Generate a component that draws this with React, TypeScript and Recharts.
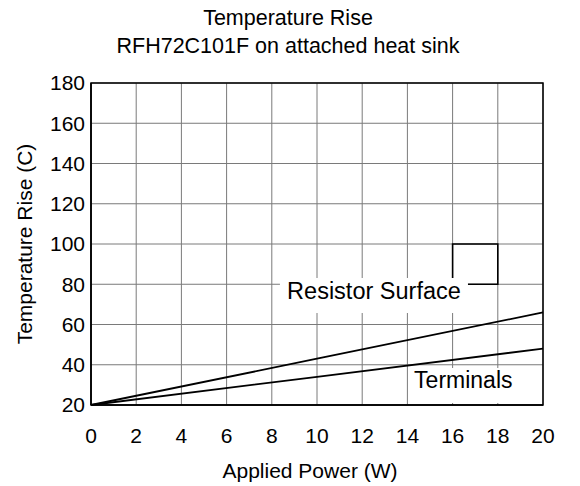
import React from 'react';
import {
  LineChart,
  Line,
  XAxis,
  YAxis,
  CartesianGrid,
  ReferenceArea,
  Label,
} from 'recharts';

const powerW = [0, 10, 20];
const resistorSurface = [20, 43, 66];
const terminals = [20, 34, 48];
const xTicks = [0, 2, 4, 6, 8, 10, 12, 14, 16, 18, 20];
const yTicks = [20, 40, 60, 80, 100, 120, 140, 160, 180];

const data = powerW.map((x, i) => ({
  x,
  surface: resistorSurface[i],
  terminals: terminals[i],
}));

const FONT = "'Liberation Sans', Arial, Helvetica, sans-serif";

export default function App() {
  return (
    <div
      style={{
        position: 'absolute',
        left: 0,
        top: 0,
        width: 580,
        height: 486,
        background: '#fff',
        fontFamily: FONT,
      }}
    >
      <div
        style={{
          position: 'absolute',
          left: 0,
          top: 4,
          width: 576,
          textAlign: 'center',
          fontSize: 21.5,
          lineHeight: '28px',
          color: '#000',
        }}
      >
        <div>Temperature Rise</div>
        <div>RFH72C101F on attached heat sink</div>
      </div>
      <LineChart
        width={580}
        height={486}
        data={data}
        margin={{ top: 83, right: 37, bottom: 0, left: 0 }}
        style={{ position: 'absolute', left: 0, top: 0, fontFamily: FONT }}
      >
        <CartesianGrid stroke="#7a7a7a" strokeWidth={1} />
        <XAxis
          dataKey="x"
          type="number"
          domain={[0, 20]}
          ticks={xTicks}
          interval={0}
          height={81}
          tickSize={0}
          tickMargin={23}
          axisLine={{ stroke: '#000', strokeWidth: 1.5 }}
          tickLine={false}
          tick={{ fill: '#000', fontSize: 21, fontFamily: FONT }}
        >
          <Label
            content={() => (
              <text
                x={310}
                y={478}
                textAnchor="middle"
                fontSize={21}
                fontFamily={FONT}
                fill="#000"
              >
                Applied Power (W)
              </text>
            )}
          />
        </XAxis>
        <YAxis
          type="number"
          domain={[20, 180]}
          ticks={yTicks}
          interval={0}
          width={91}
          tickSize={0}
          tickMargin={6}
          axisLine={{ stroke: '#000', strokeWidth: 1.5 }}
          tickLine={false}
          tick={{ fill: '#000', fontSize: 21, fontFamily: FONT }}
        >
          <Label
            content={() => (
              <text
                x={32}
                y={244}
                transform="rotate(-90 32 244)"
                textAnchor="middle"
                fontSize={21}
                fontFamily={FONT}
                fill="#000"
              >
                Temperature Rise (C)
              </text>
            )}
          />
        </YAxis>
        <ReferenceArea
          x1={0}
          x2={20}
          y1={20}
          y2={180}
          fill="none"
          stroke="#000"
          strokeWidth={1.5}
        />
        <ReferenceArea
          x1={16}
          x2={18}
          y1={80}
          y2={100}
          fill="none"
          fillOpacity={0}
          stroke="#000"
          strokeWidth={1.6}
        />
        <ReferenceArea
          x1={8.36}
          x2={16.68}
          y1={65.7}
          y2={83.1}
          fill="#fff"
          fillOpacity={1}
          stroke="none"
          label={{
            value: 'Resistor Surface',
            position: 'insideTop',
            offset: 4,
            fontSize: 23.5,
            fill: '#000',
            fontFamily: FONT,
          }}
        />
        <ReferenceArea
          x1={14.12}
          x2={19.87}
          y1={21}
          y2={38.4}
          fill="#fff"
          fillOpacity={1}
          stroke="none"
          label={{
            value: 'Terminals',
            position: 'insideTopLeft',
            offset: 4,
            fontSize: 23,
            fill: '#000',
            fontFamily: FONT,
          }}
        />
        <Line
          type="linear"
          dataKey="surface"
          stroke="#000"
          strokeWidth={1.8}
          dot={false}
          activeDot={false}
          isAnimationActive={false}
        />
        <Line
          type="linear"
          dataKey="terminals"
          stroke="#000"
          strokeWidth={1.8}
          dot={false}
          activeDot={false}
          isAnimationActive={false}
        />
      </LineChart>
    </div>
  );
}
